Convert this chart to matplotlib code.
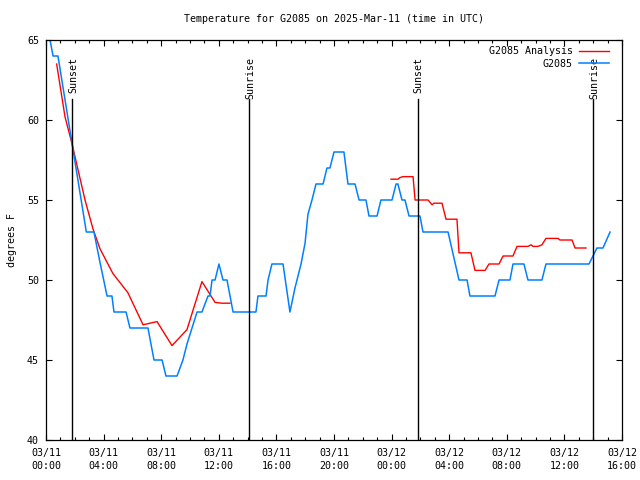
import matplotlib
matplotlib.use("Agg")
import matplotlib.pyplot as plt
from matplotlib.ticker import MultipleLocator, FixedLocator

plt.rcParams['font.family'] = ['DejaVu Sans Mono']

# hours since 03/11 00:00 UTC
obs_hours = [0.05, 0.28, 0.49, 0.83, 2.80, 3.33, 3.75, 4.24, 4.58, 4.72, 5.56, 5.83, 7.08,
             7.50, 8.06, 8.33, 9.10, 9.51, 9.79, 10.14, 10.49, 10.83, 11.25, 11.39, 11.53,
             11.74, 12.01, 12.29, 12.57, 12.99, 14.58, 14.72, 15.28, 15.42, 15.69, 16.46,
             16.94, 17.29, 17.71, 17.99, 18.19, 18.47, 18.75, 19.24, 19.51, 19.72, 20.00,
             20.69, 20.97, 21.46, 21.74, 22.22, 22.43, 22.99, 23.26, 24.03, 24.31, 24.44,
             24.72, 24.93, 25.21, 25.97, 26.18, 27.92, 28.68, 29.24, 29.44, 31.18, 31.46,
             32.22, 32.43, 33.19, 33.47, 34.44, 34.72, 37.71, 38.26, 38.68, 39.17]
obs_temp = [65.4, 65.0, 64.0, 64.0, 53.0, 53.0, 51.1, 49.0, 49.0, 48.0, 48.0, 47.0, 47.0,
            45.0, 45.0, 44.0, 44.0, 45.0, 46.0, 47.0, 48.0, 48.0, 49.0, 49.0, 50.0,
            50.0, 51.0, 50.0, 50.0, 48.0, 48.0, 49.0, 49.0, 50.0, 51.0, 51.0,
            48.0, 49.5, 51.0, 52.3, 54.1, 55.0, 56.0, 56.0, 57.0, 57.0, 58.0,
            58.0, 56.0, 56.0, 55.0, 55.0, 54.0, 54.0, 55.0, 55.0, 56.0, 56.0,
            55.0, 55.0, 54.0, 54.0, 53.0, 53.0, 50.0, 50.0, 49.0, 49.0, 50.0,
            50.0, 51.0, 51.0, 50.0, 50.0, 51.0, 51.0, 52.0, 52.0, 53.0]

ana1_hours = [0.74, 1.32, 1.81, 2.71, 3.26, 3.75, 4.65, 5.69, 6.74, 7.22, 7.71, 8.75,
              9.79, 10.83, 11.74, 12.22, 12.78]
ana1_temp = [63.5, 60.2, 58.5, 55.0, 53.2, 51.95, 50.4, 49.2, 47.2, 47.3, 47.4, 45.9,
             46.9, 49.9, 48.6, 48.55, 48.55]

ana2_hours = [23.96, 24.44, 24.58, 24.79, 25.49, 25.63, 26.53, 26.81, 26.94, 27.50, 27.78,
              28.54, 28.68, 29.51, 29.79, 30.49, 30.76, 31.46, 31.74, 32.43, 32.71, 33.47,
              33.68, 33.82, 34.17, 34.44, 34.72, 35.56, 35.69, 36.53, 36.74, 37.50]
ana2_temp = [56.3, 56.3, 56.4, 56.46, 56.46, 55.0, 55.0, 54.7, 54.8, 54.8, 53.8,
             53.8, 51.7, 51.7, 50.6, 50.6, 51.0, 51.0, 51.5, 51.5, 52.1, 52.1,
             52.2, 52.1, 52.1, 52.2, 52.6, 52.6, 52.5, 52.5, 52.0, 52.0]

event_hours = [1.83, 14.12, 25.8, 38.0]
event_labels = ["Sunset", "Sunrise", "Sunset", "Sunrise"]

tick_hours = [0, 4, 8, 12, 16, 20, 24, 28, 32, 36, 40]
tick_labels = ["03/11\n00:00", "03/11\n04:00", "03/11\n08:00", "03/11\n12:00",
               "03/11\n16:00", "03/11\n20:00", "03/12\n00:00", "03/12\n04:00",
               "03/12\n08:00", "03/12\n12:00", "03/12\n16:00"]
y_ticks = [40, 45, 50, 55, 60, 65]

RED = '#ff0000'
BLUE = '#0080ff'
FS = 7.2

fig = plt.figure(figsize=(6.4, 4.8), dpi=100)
ax = fig.add_axes([46/640, 40/480, 576/640, 400/480])

la, = ax.plot(ana1_hours, ana1_temp, color=RED, lw=1.0, label='G2085 Analysis')
ax.plot(ana2_hours, ana2_temp, color=RED, lw=1.0)
lo, = ax.plot(obs_hours, obs_temp, color=BLUE, lw=1.1, label='G2085')

for h, lab in zip(event_hours, event_labels):
    ax.plot([h, h], [40, 61.3], color='black', lw=1.0)
    ax.text(h + 0.07, 63.95, lab, rotation=90, ha='center', va='top', fontsize=FS)

ax.set_xlim(0, 40)
ax.set_ylim(40, 65)
ax.xaxis.set_major_locator(FixedLocator(tick_hours))
ax.set_xticklabels(tick_labels)
ax.xaxis.set_minor_locator(MultipleLocator(1))
ax.set_yticks(y_ticks)
ax.tick_params(which='both', direction='in', top=True, right=True, labelsize=FS, width=0.8)
ax.tick_params(which='major', length=4.0)
ax.tick_params(which='minor', length=2.0)
ax.tick_params(axis='x', pad=6)
ax.tick_params(axis='y', pad=5)
for lbl in ax.get_xticklabels():
    lbl.set_linespacing(1.35)
for s in ax.spines.values():
    s.set_linewidth(0.9)

ax.set_ylabel('degrees F', fontsize=FS, labelpad=7)
fig.text(334/640, 1 - 19/480, 'Temperature for G2085 on 2025-Mar-11 (time in UTC)',
         ha='center', va='center', fontsize=FS)

ax.legend(handles=[la, lo], loc='upper right', bbox_to_anchor=(0.991, 1.004),
          frameon=False, markerfirst=False, fontsize=FS, handlelength=3.0,
          handletextpad=0.6, labelspacing=0.25, borderpad=0.3)

fig.savefig('out.png', dpi=100)
